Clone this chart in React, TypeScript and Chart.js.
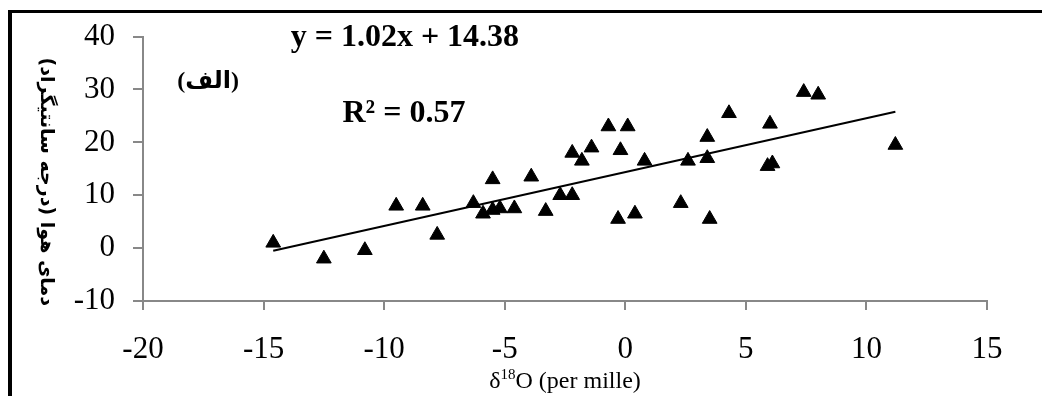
import React, { useEffect, useRef } from "react";
import { Chart, registerables } from "chart.js";

Chart.register(...registerables);

// δ18O (per mille) values
const pointX = [
  -14.6, -12.5, -10.8, -9.5, -8.4, -7.8, -6.3, -5.9, -5.5, -5.5, -5.2, -4.6,
  -3.9, -3.3, -2.7, -2.2, -2.2, -1.8, -1.4, -0.7, 0.1, -0.2, -0.3, 0.4, 0.8,
  2.3, 2.6, 3.4, 3.4, 3.5, 4.3, 6.0, 5.9, 6.1, 7.4, 8.0, 11.2,
];
// air temperature values
const pointY = [
  1, -2, -0.4, 8, 8, 2.5, 8.5, 6.5, 7.2, 13, 7.5, 7.5, 13.5, 7, 10, 10, 18,
  16.5, 19, 23, 23, 18.5, 5.5, 6.5, 16.5, 8.5, 16.5, 21, 17, 5.5, 25.5, 23.5,
  15.5, 16, 29.5, 29, 19.5,
];
// linear trendline end points (y = 1.02x + 14.38)
const trendX = [-14.6, 11.2];
const trendY = [-0.51, 25.8];

const xTicks = [-20, -15, -10, -5, 0, 5, 10, 15];
const yTicks = [-10, 0, 10, 20, 30, 40];

const equationText = "y = 1.02x + 14.38";
const r2Text = "R² = 0.57";
const panelLabel = "(الف)";
const yTitle = "دمای هوا (درجه سانتیگراد)";
const xTitleParts = ["δ", "18", "O (per mille)"];

const SERIF = "'Liberation Serif', 'Times New Roman', serif";

const decorPlugin = {
  id: "decor",
  beforeDraw(chart: any) {
    const ctx = chart.ctx;
    ctx.save();
    ctx.fillStyle = "#000";
    ctx.fillRect(8, 10, 4, chart.height - 10);
    ctx.fillRect(8, 10, chart.width - 8, 3);
    ctx.restore();
  },
  afterDraw(chart: any) {
    const ctx = chart.ctx;
    const xs = chart.scales.x;
    const ys = chart.scales.y;
    const area = chart.chartArea;
    ctx.save();
    ctx.fillStyle = "#000";

    // trendline equation and R²
    ctx.font = `bold 32px ${SERIF}`;
    ctx.textAlign = "center";
    ctx.textBaseline = "alphabetic";
    ctx.fillText(equationText, xs.getPixelForValue(-9.14), ys.getPixelForValue(38.2));
    ctx.fillText(r2Text, xs.getPixelForValue(-9.18), ys.getPixelForValue(23.9));

    // panel label
    ctx.font = `bold 24px 'Liberation Serif', 'DejaVu Sans'`;
    ctx.textBaseline = "middle";
    ctx.direction = "rtl";
    ctx.fillText(panelLabel, xs.getPixelForValue(-17.3), ys.getPixelForValue(31.4));

    // y axis title (rotated)
    ctx.save();
    ctx.translate(area.left - 97, (area.top + area.bottom) / 2 + 13);
    ctx.rotate(Math.PI / 2);
    ctx.font = "bold 19px 'DejaVu Sans'";
    ctx.textAlign = "center";
    ctx.textBaseline = "middle";
    ctx.direction = "rtl";
    ctx.fillText(yTitle, 0, 0);
    ctx.restore();

    // x axis title with superscript
    ctx.direction = "ltr";
    ctx.textAlign = "left";
    ctx.textBaseline = "alphabetic";
    const bigFont = `24px ${SERIF}`;
    const smallFont = `15px ${SERIF}`;
    ctx.font = bigFont;
    const w0 = ctx.measureText(xTitleParts[0]).width;
    const w2 = ctx.measureText(xTitleParts[2]).width;
    ctx.font = smallFont;
    const w1 = ctx.measureText(xTitleParts[1]).width;
    const total = w0 + w1 + w2;
    const baseY = area.bottom + 87;
    let x = (area.left + area.right) / 2 - total / 2;
    ctx.font = bigFont;
    ctx.fillText(xTitleParts[0], x, baseY);
    x += w0;
    ctx.font = smallFont;
    ctx.fillText(xTitleParts[1], x, baseY - 9);
    x += w1;
    ctx.font = bigFont;
    ctx.fillText(xTitleParts[2], x, baseY);
    ctx.restore();
  },
};

export default function App() {
  const canvasRef = useRef<HTMLCanvasElement | null>(null);

  useEffect(() => {
    const canvas = canvasRef.current;
    if (!canvas) return;
    const axisGray = "#888888";
    const chart = new Chart(canvas, {
      type: "scatter",
      data: {
        datasets: [
          {
            type: "scatter",
            data: pointX.map((x, i) => ({ x, y: pointY[i] })),
            pointStyle: "triangle",
            pointRadius: 8.5,
            pointBackgroundColor: "#000",
            pointBorderColor: "#000",
            pointBorderWidth: 1,
            order: 1,
          },
          {
            type: "line",
            data: trendX.map((x, i) => ({ x, y: trendY[i] })),
            borderColor: "#000",
            borderWidth: 2,
            pointRadius: 0,
            fill: false,
            order: 2,
          },
        ],
      } as any,
      options: {
        animation: false,
        responsive: true,
        maintainAspectRatio: false,
        layout: { padding: { top: 31, right: 55, left: 0, bottom: 0 } },
        plugins: {
          legend: { display: false },
          tooltip: { enabled: false },
        },
        scales: {
          x: {
            type: "linear",
            min: -20,
            max: 15,
            afterBuildTicks: (s: any) => {
              s.ticks = xTicks.map((v) => ({ value: v }));
            },
            afterFit: (s: any) => {
              s.height = 95;
            },
            grid: {
              drawOnChartArea: false,
              drawTicks: true,
              tickLength: 9,
              color: axisGray,
              lineWidth: 2,
            },
            border: { display: true, color: axisGray, width: 2 },
            ticks: {
              color: "#000",
              font: { family: SERIF, size: 31 },
              padding: 21,
              maxRotation: 0,
              autoSkip: false,
            },
          },
          y: {
            type: "linear",
            min: -10,
            max: 40,
            afterBuildTicks: (s: any) => {
              s.ticks = yTicks.map((v) => ({ value: v }));
            },
            afterFit: (s: any) => {
              s.width = 143;
            },
            grid: {
              drawOnChartArea: false,
              drawTicks: true,
              tickLength: 10,
              color: axisGray,
              lineWidth: 2,
            },
            border: { display: true, color: axisGray, width: 2 },
            ticks: {
              color: "#000",
              font: { family: SERIF, size: 31 },
              padding: 18,
              autoSkip: false,
            },
          },
        },
      } as any,
      plugins: [decorPlugin],
    });
    return () => chart.destroy();
  }, []);

  return (
    <div
      style={{
        position: "fixed",
        left: 0,
        top: 0,
        width: 1042,
        height: 396,
        background: "#fff",
      }}
    >
      <canvas ref={canvasRef} />
    </div>
  );
}
